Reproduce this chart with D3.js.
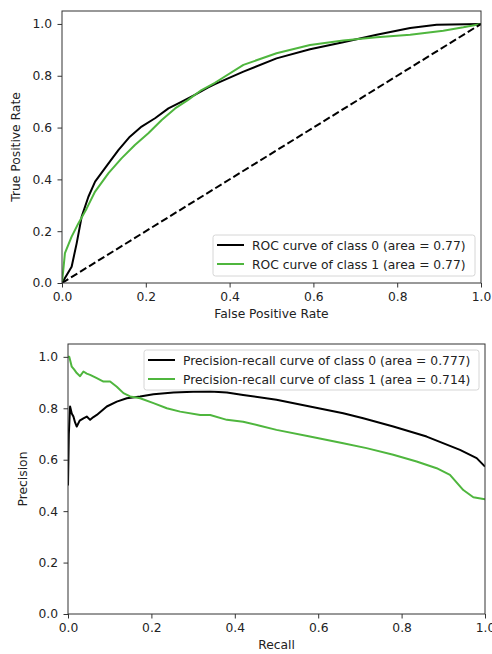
<!DOCTYPE html>
<html>
<head>
<meta charset="utf-8">
<script src="https://cdn.jsdelivr.net/npm/d3@7"></script>
<style>
  body { margin: 0; background: #fff; }
  text { font-family: "DejaVu Sans", sans-serif; fill: #222; }
</style>
</head>
<body>
<svg id="chart" width="492" height="654"></svg>
<script>
// ROC curves
const rocFpr0 = [0, 0.023, 0.035, 0.047, 0.063, 0.079, 0.111, 0.135, 0.162, 0.19, 0.222, 0.254, 0.286, 0.317, 0.349, 0.365, 0.433, 0.512, 0.592, 0.671, 0.751, 0.831, 0.894, 1]
const rocTpr0 = [0, 0.063, 0.153, 0.256, 0.333, 0.391, 0.462, 0.514, 0.565, 0.604, 0.636, 0.674, 0.7, 0.726, 0.755, 0.768, 0.816, 0.867, 0.902, 0.929, 0.958, 0.984, 0.997, 1]
const rocFpr1 = [0, 0.007, 0.023, 0.039, 0.059, 0.079, 0.111, 0.142, 0.174, 0.206, 0.238, 0.27, 0.301, 0.333, 0.365, 0.433, 0.512, 0.592, 0.671, 0.751, 0.831, 0.91, 0.958, 1]
const rocTpr1 = [0, 0.115, 0.179, 0.23, 0.288, 0.353, 0.424, 0.481, 0.533, 0.578, 0.629, 0.674, 0.707, 0.745, 0.773, 0.842, 0.887, 0.919, 0.936, 0.949, 0.958, 0.974, 0.987, 1]
const rocLabels = ['ROC curve of class 0 (area = 0.77)', 'ROC curve of class 1 (area = 0.77)']

// precision-recall curves
const prRecall0 = [0, 0.002, 0.005, 0.009, 0.013, 0.017, 0.021, 0.028, 0.037, 0.045, 0.053, 0.061, 0.069, 0.093, 0.117, 0.141, 0.173, 0.205, 0.253, 0.3, 0.341, 0.381, 0.42, 0.5, 0.58, 0.66, 0.708, 0.78, 0.86, 0.94, 0.98, 1]
const prPrecision0 = [0.5, 0.7, 0.807, 0.78, 0.768, 0.745, 0.729, 0.752, 0.761, 0.768, 0.755, 0.766, 0.774, 0.807, 0.826, 0.839, 0.846, 0.855, 0.861, 0.864, 0.865, 0.861, 0.852, 0.833, 0.807, 0.781, 0.761, 0.729, 0.69, 0.638, 0.606, 0.573]
const prRecall1 = [0, 0.003, 0.009, 0.015, 0.021, 0.029, 0.037, 0.045, 0.053, 0.069, 0.085, 0.101, 0.117, 0.133, 0.149, 0.173, 0.205, 0.237, 0.269, 0.317, 0.341, 0.381, 0.42, 0.46, 0.5, 0.58, 0.66, 0.716, 0.78, 0.836, 0.884, 0.916, 0.948, 0.972, 1]
const prPrecision1 = [1, 1, 0.962, 0.95, 0.937, 0.925, 0.943, 0.935, 0.93, 0.917, 0.904, 0.904, 0.884, 0.859, 0.846, 0.839, 0.82, 0.8, 0.787, 0.774, 0.774, 0.755, 0.748, 0.732, 0.716, 0.69, 0.664, 0.645, 0.619, 0.593, 0.567, 0.541, 0.482, 0.454, 0.446]
const prLabels = ['Precision-recall curve of class 0 (area = 0.777)', 'Precision-recall curve of class 1 (area = 0.714)']

const tickValues = [0, 0.2, 0.4, 0.6, 0.8, 1.0]
const colors = ['#000000', '#4fb63e']
const fontSize = '12.3px'

const svg = d3.select('#chart')

function zip(xs, ys) {
  return xs.map((x, i) => [x, ys[i]])
}

function drawPanel(box, xLabel, yLabel, yLabelOffset, series, labels, diagonal, legendBox) {
  const g = svg.append('g')
  const x = d3.scaleLinear().domain([0, 1]).range([box.left, box.right])
  const y = d3.scaleLinear().domain([0, 1.05]).range([box.bottom, box.top])

  const xAxis = g.append('g')
    .attr('transform', `translate(0,${box.bottom})`)
    .call(d3.axisBottom(x).tickValues(tickValues).tickFormat(d3.format('.1f')).tickSize(4.5).tickPadding(4.5))
  const yAxis = g.append('g')
    .attr('transform', `translate(${box.left},0)`)
    .call(d3.axisLeft(y).tickValues(tickValues).tickFormat(d3.format('.1f')).tickSize(4.5).tickPadding(5.5))
  ;[xAxis, yAxis].forEach(a => {
    a.select('.domain').remove()
    a.selectAll('line').attr('stroke', '#333')
    a.selectAll('text').style('font-size', fontSize).attr('fill', '#222')
  })

  const clipId = 'clip' + Math.round(box.top)
  g.append('clipPath').attr('id', clipId)
    .append('rect')
    .attr('x', box.left).attr('y', box.top)
    .attr('width', box.right - box.left).attr('height', box.bottom - box.top)

  const line = d3.line().x(d => x(d[0])).y(d => y(d[1]))
  const plot = g.append('g').attr('clip-path', `url(#${clipId})`)

  series.forEach((s, i) => {
    plot.append('path')
      .datum(s)
      .attr('d', line)
      .attr('fill', 'none')
      .attr('stroke', colors[i])
      .attr('stroke-width', 2)
      .attr('stroke-linejoin', 'round')
  })

  if(diagonal) {
    plot.append('path')
      .datum([[0, 0], [1, 1]])
      .attr('d', line)
      .attr('stroke', '#000')
      .attr('stroke-width', 2)
      .attr('stroke-dasharray', '7.4,3.2')
  }

  // frame
  g.append('rect')
    .attr('x', box.left).attr('y', box.top)
    .attr('width', box.right - box.left).attr('height', box.bottom - box.top)
    .attr('fill', 'none')
    .attr('stroke', '#333')
    .attr('stroke-width', 1)

  g.append('text')
    .attr('x', (box.left + box.right) / 2)
    .attr('y', box.bottom + 35)
    .attr('text-anchor', 'middle')
    .style('font-size', fontSize)
    .text(xLabel)

  g.append('text')
    .attr('transform', `translate(${box.left - yLabelOffset},${(box.top + box.bottom) / 2}) rotate(-90)`)
    .attr('text-anchor', 'middle')
    .style('font-size', fontSize)
    .text(yLabel)

  // legend
  const lg = g.append('g')
  lg.append('rect')
    .attr('x', legendBox.x).attr('y', legendBox.y)
    .attr('width', legendBox.w).attr('height', legendBox.h)
    .attr('rx', 2.5)
    .attr('fill', 'rgba(255,255,255,0.8)')
    .attr('stroke', '#d6d6d6')
  labels.forEach((lab, i) => {
    const ly = legendBox.y + 10 + i * 19
    lg.append('line')
      .attr('x1', legendBox.x + 4).attr('x2', legendBox.x + 31)
      .attr('y1', ly).attr('y2', ly)
      .attr('stroke', colors[i])
      .attr('stroke-width', 2)
    lg.append('text')
      .attr('x', legendBox.x + 39)
      .attr('y', ly + 4.5)
      .style('font-size', fontSize)
      .text(lab)
  })
}

drawPanel({ left: 62, right: 481, top: 11, bottom: 283 },
  'False Positive Rate', 'True Positive Rate', 42,
  [zip(rocFpr0, rocTpr0), zip(rocFpr1, rocTpr1)], rocLabels, true,
  { x: 213, y: 235, w: 262, h: 41 })

drawPanel({ left: 68, right: 485, top: 344, bottom: 614 },
  'Recall', 'Precision', 41,
  [zip(prRecall0, prPrecision0), zip(prRecall1, prPrecision1)], prLabels, false,
  { x: 144, y: 350, w: 335, h: 40 })
</script>
</body>
</html>
